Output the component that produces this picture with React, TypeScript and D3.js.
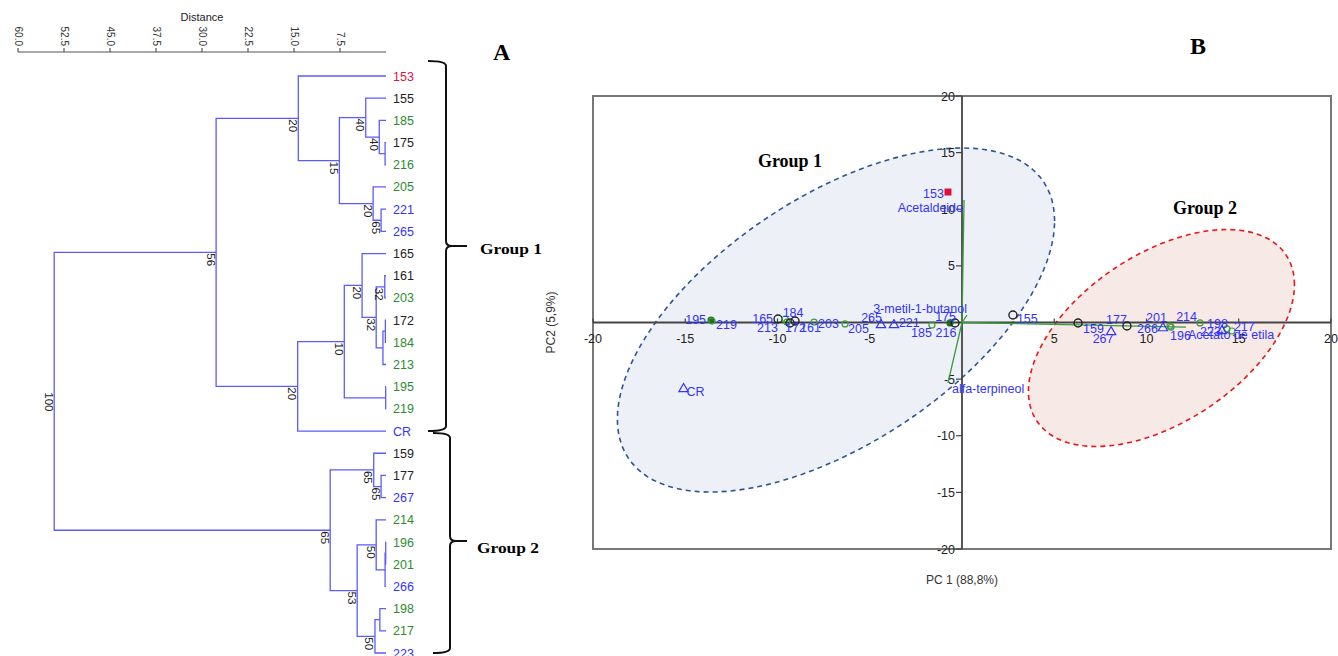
import React from "react";
import * as d3 from "d3";

// ---------------- Dendrogram (panel A) data ----------------
const leaves = [
  "153", "155", "185", "175", "216", "205", "221", "265",
  "165", "161", "203", "172", "184", "213", "195", "219", "CR",
  "159", "177", "267", "214", "196", "201", "266", "198", "217", "223",
];
const leafGroups = [
  "red", "black", "green", "black", "green", "green", "blue", "blue",
  "black", "black", "green", "black", "green", "green", "green", "green", "blue",
  "black", "black", "blue", "green", "green", "green", "blue", "green", "green", "blue",
];
// [node id, child A, child B, distance, bootstrap]
const merges: [string, string, string, number, number | null][] = [
  ["n1", "175", "216", 0.15, null],
  ["n2", "185", "n1", 1.1, 40],
  ["n3", "155", "n2", 3.3, 40],
  ["n4", "221", "265", 0.8, 65],
  ["n5", "205", "n4", 2.1, 20],
  ["n6", "n3", "n5", 7.6, 15],
  ["n7", "153", "n6", 14.3, 20],
  ["m1", "161", "203", 0.2, 32],
  ["m2a", "172", "184", 0.1, null],
  ["m2", "m2a", "213", 0.5, null],
  ["m3", "m1", "m2", 1.6, 32],
  ["m4", "165", "m3", 3.9, 20],
  ["m5", "195", "219", 0.05, null],
  ["m6", "m4", "m5", 6.8, 10],
  ["m7", "m6", "CR", 14.4, 20],
  ["g1", "n7", "m7", 27.7, 56],
  ["p1", "177", "267", 0.8, 65],
  ["p2", "159", "p1", 2.0, 65],
  ["q1", "196", "201", 0.05, null],
  ["q2", "q1", "266", 0.15, null],
  ["q3", "214", "q2", 1.6, 50],
  ["r1", "198", "217", 1.0, null],
  ["r2", "r1", "223", 1.8, 50],
  ["s1", "q3", "r2", 4.7, 53],
  ["s2", "p2", "s1", 9.1, 65],
  ["root", "g1", "s2", 54.1, 100],
];
const distanceTicks = [60, 52.5, 45, 37.5, 30, 22.5, 15, 7.5];

// ---------------- PCA (panel B) data ----------------
const samples = [
  "153", "195", "219", "165", "184", "213", "172", "161", "203", "205",
  "265", "221", "185", "216", "175", "155", "159", "177", "267", "266",
  "201", "196", "214", "198", "217", "223", "CR",
];
const pc1 = [
  -0.76, -13.6, -13.55, -9.97, -9.59, -9.49, -9.32, -9.05, -8.02, -6.34,
  -4.39, -3.69, -1.63, -0.65, -0.38, 2.76, 6.29, 8.94, 8.08, 10.89,
  11.27, 11.33, 12.9, 14.36, 14.63, 14.09, -15.09,
];
const pc2 = [
  11.52, 0.22, 0.13, 0.31, 0.31, 0.04, -0.04, 0.13, 0.04, -0.13,
  -0.22, -0.22, -0.22, -0.04, -0.04, 0.66, -0.04, -0.31, -0.84, -0.49,
  -0.31, -0.4, -0.04, -0.57, -0.75, -0.75, -5.87,
];
const variables = ["Acetaldeido", "3-metil-1-butanol", "alfa-terpineol", "Acetato de etila"];
const loadX = [0.11, 0.27, -0.76, 12.14];
const loadY = [10.82, 0.66, -5.34, -0.4];
const pcaTicks = [-20, -15, -10, -5, 5, 10, 15, 20];

// confidence ellipses: centre, sd x, sd y, correlation
const ellipseNames = ["Group 1", "Group 2"];
const ellCx = [-6.83, 10.81];
const ellCy = [0.22, -1.37];
const ellSx = [11.85, 7.21];
const ellSy = [15.19, 9.58];
const ellR = [0.576, 0.492];

// ---------------- styling ----------------
const groupColor: Record<string, string> = {
  red: "#e3143c",
  black: "#222222",
  green: "#2e8b2e",
  blue: "#3333ff",
};
const markerColor: Record<string, string> = {
  red: "#e0103a",
  black: "#222222",
  green: "#3d9d3d",
  blue: "#3535ff",
};
const filledMarkers = new Set(["195", "216"]);
// label placement relative to point: [dx, dy, anchor]
const labelPos: Record<string, [number, number, string]> = {
  "153": [-4, 6, "end"],
  "195": [-5, 4, "end"],
  "219": [4, 8, "start"],
  "165": [-5, 4, "end"],
  "184": [8, -2, "middle"],
  "213": [-9, 10, "end"],
  "172": [-5, 9, "start"],
  "161": [5, 11, "start"],
  "203": [4, 6, "start"],
  "205": [3, 9, "start"],
  "265": [1, -3, "end"],
  "221": [5, 2, "start"],
  "185": [0, 12, "end"],
  "216": [-4, 14, "middle"],
  "175": [1, -2, "end"],
  "155": [4, 8, "start"],
  "159": [5, 10, "start"],
  "177": [0, -2.5, "end"],
  "267": [-8, 10.5, "middle"],
  "266": [-5, 4.5, "end"],
  "201": [-3, -4.5, "end"],
  "196": [-1, 12.5, "start"],
  "214": [-3, -1.5, "end"],
  "198": [1, -0.5, "end"],
  "217": [2, 0.5, "start"],
  "223": [-1, 5.5, "end"],
  CR: [3, 7.5, "start"],
};
const varLabelPos: [number, number, string][] = [
  [-1, 12, "end"],
  [0, -2, "end"],
  [4, 10, "start"],
  [2, 12, "start"],
];

const SANS = "'Liberation Sans', Arial, Helvetica, sans-serif";
const SERIF = "'Liberation Serif', 'Times New Roman', serif";

function bracePath(x: number, y1: number, y2: number, ym: number, hook: number, tip: number) {
  return [
    `M${x - hook},${y1}`,
    `Q${x},${y1} ${x},${y1 + 5}`,
    `L${x},${ym - 5}`,
    `Q${x},${ym} ${x + 6},${ym}`,
    `L${x + tip},${ym}`,
    `M${x + 6},${ym}`,
    `Q${x},${ym} ${x},${ym + 5}`,
    `L${x},${y2 - 5}`,
    `Q${x},${y2} ${x - hook},${y2}`,
  ].join(" ");
}

function Dendrogram() {
  const xD = d3.scaleLinear().domain([0, 60]).range([386, 18]);
  const yLeaf = d3.scalePoint<string>().domain(leaves).range([76, 653]);
  const pos: Record<string, { x: number; y: number }> = {};
  leaves.forEach((l) => (pos[l] = { x: xD(0), y: yLeaf(l) as number }));
  const lines: JSX.Element[] = [];
  const boots: JSX.Element[] = [];
  merges.forEach(([id, a, b, h, bs], i) => {
    const A = pos[a];
    const B = pos[b];
    const x = xD(h);
    const y = (A.y + B.y) / 2;
    pos[id] = { x, y };
    lines.push(
      <path
        key={"l" + i}
        d={`M${A.x},${A.y} H${x} V${B.y} H${B.x}`}
        fill="none"
        stroke="#5b5bff"
        strokeWidth={1.3}
      />
    );
    if (bs !== null) {
      boots.push(
        <text
          key={"b" + i}
          transform={`translate(${x - 9.5},${y + 1}) rotate(90)`}
          fontSize={11.5}
          fontFamily={SANS}
          fill="#222"
        >
          {bs}
        </text>
      );
    }
  });
  const axisY = 52;
  return (
    <g>
      <text x={202} y={21} textAnchor="middle" fontSize={11} fontFamily={SANS} fill="#222">
        Distance
      </text>
      <line x1={xD(60)} x2={xD(0)} y1={axisY} y2={axisY} stroke="#555" strokeWidth={1.2} />
      {distanceTicks.map((t) => (
        <g key={t}>
          <line x1={xD(t)} x2={xD(t)} y1={axisY} y2={axisY - 4} stroke="#555" strokeWidth={1.2} />
          <text
            transform={`translate(${xD(t) - 3.5},${axisY - 6}) rotate(90)`}
            textAnchor="end"
            fontSize={10}
            fontFamily={SANS}
            fill="#333"
          >
            {t.toFixed(1)}
          </text>
        </g>
      ))}
      {lines}
      {boots}
      {leaves.map((l, i) => (
        <text
          key={l}
          x={xD(0) + 7}
          y={(yLeaf(l) as number) + 4.5}
          fontSize={12.5}
          fontFamily={SANS}
          fill={groupColor[leafGroups[i]]}
        >
          {l}
        </text>
      ))}
      <path d={bracePath(446, 61, 431, 246, 18, 21)} fill="none" stroke="#111" strokeWidth={2} />
      <path d={bracePath(450, 433, 653, 541, 17, 17)} fill="none" stroke="#111" strokeWidth={2} />
      <text x={480} y={254} fontSize={15} fontWeight="bold" fontFamily={SERIF} textLength={62} lengthAdjust="spacingAndGlyphs">
        Group 1
      </text>
      <text x={477} y={553} fontSize={15} fontWeight="bold" fontFamily={SERIF} textLength={62} lengthAdjust="spacingAndGlyphs">
        Group 2
      </text>
      <text x={493} y={60} fontSize={24} fontWeight="bold" fontFamily={SERIF}>
        A
      </text>
    </g>
  );
}

function PCA() {
  const x = d3.scaleLinear().domain([-20, 20]).range([593, 1331]);
  const y = d3.scaleLinear().domain([-20, 20]).range([549, 96]);
  const x0 = x(0);
  const y0 = y(0);
  const ellipseFill = ["#edf1f7", "#f7eae6"];
  const ellipseStroke = ["#2f5597", "#e8161b"];
  const ellPaths = ellipseNames.map((_, g) => {
    const pts = d3.range(0, 361, 3).map((deg) => {
      const t = (deg * Math.PI) / 180;
      const ex = ellCx[g] + ellSx[g] * Math.cos(t);
      const ey = ellCy[g] + ellSy[g] * (ellR[g] * Math.cos(t) + Math.sqrt(1 - ellR[g] ** 2) * Math.sin(t));
      return [x(ex), y(ey)] as [number, number];
    });
    return d3.line().curve(d3.curveLinearClosed)(pts) as string;
  });
  const tri = d3.symbol().type(d3.symbolTriangle).size(38)() as string;
  return (
    <g>
      {ellPaths.map((d, g) => (
        <path key={g} d={d} fill={ellipseFill[g]} stroke="none" />
      ))}
      <rect x={x(-20)} y={y(20)} width={x(20) - x(-20)} height={y(-20) - y(20)} fill="none" stroke="#777" strokeWidth={2} />
      {ellPaths.map((d, g) => (
        <path key={g} d={d} fill="none" stroke={ellipseStroke[g]} strokeWidth={1.6} strokeDasharray="5,4" />
      ))}
      <line x1={x(-20)} x2={x(20)} y1={y0} y2={y0} stroke="#444" strokeWidth={1.8} />
      <line x1={x0} x2={x0} y1={y(20)} y2={y(-20)} stroke="#444" strokeWidth={1.8} />
      {pcaTicks.map((t) => (
        <g key={t}>
          <line x1={x(t)} x2={x(t)} y1={y0} y2={y0 - 4} stroke="#444" strokeWidth={1.2} />
          <text x={x(t)} y={y0 + 20} textAnchor="middle" fontSize={12.5} fontFamily={SANS} fill="#222">
            {t}
          </text>
          <line x1={x0 - 6} x2={x0} y1={y(t)} y2={y(t)} stroke="#444" strokeWidth={1.2} />
          <text x={x0 - 7} y={y(t) + 4.5} textAnchor="end" fontSize={12.5} fontFamily={SANS} fill="#222">
            {t}
          </text>
        </g>
      ))}
      {variables.map((v, i) => (
        <line key={v} x1={x0} y1={y0} x2={x(loadX[i])} y2={y(loadY[i])} stroke="#3a9a3a" strokeWidth={1.3} />
      ))}
      {samples.map((s, i) => {
        const g = leafGroups[leaves.indexOf(s)];
        const px = x(pc1[i]);
        const py = y(pc2[i]);
        const c = markerColor[g];
        if (g === "red")
          return <rect key={s} x={px - 3.5} y={py - 3.5} width={7} height={7} fill={c} />;
        if (g === "blue")
          return <path key={s} d={tri} transform={`translate(${px},${py})`} fill="none" stroke={c} strokeWidth={1.2} />;
        if (g === "black")
          return <circle key={s} cx={px} cy={py} r={4} fill="none" stroke={c} strokeWidth={1.4} />;
        return (
          <circle
            key={s}
            cx={px}
            cy={py}
            r={3}
            fill={filledMarkers.has(s) ? "#1f6f1f" : "none"}
            stroke={filledMarkers.has(s) ? "#1f6f1f" : c}
            strokeWidth={1.2}
          />
        );
      })}
      {samples.map((s, i) => {
        const [dx, dy, anchor] = labelPos[s];
        return (
          <text
            key={s}
            x={x(pc1[i]) + dx}
            y={y(pc2[i]) + dy}
            textAnchor={anchor as any}
            fontSize={12.5}
            fontFamily={SANS}
            fill="#3333ff"
          >
            {s}
          </text>
        );
      })}
      {variables.map((v, i) => {
        const [dx, dy, anchor] = varLabelPos[i];
        return (
          <text
            key={v}
            x={x(loadX[i]) + dx}
            y={y(loadY[i]) + dy}
            textAnchor={anchor as any}
            fontSize={12.5}
            fontFamily={SANS}
            fill="#3333ff"
          >
            {v}
          </text>
        );
      })}
      <text x={790} y={167} textAnchor="middle" fontSize={18} fontWeight="bold" fontFamily={SERIF}>
        Group 1
      </text>
      <text x={1205} y={214} textAnchor="middle" fontSize={18} fontWeight="bold" fontFamily={SERIF}>
        Group 2
      </text>
      <text x={x0} y={584} textAnchor="middle" fontSize={12} fontFamily={SANS} fill="#333">
        PC 1 (88,8%)
      </text>
      <text transform={`translate(555,${y0}) rotate(-90)`} textAnchor="middle" fontSize={12} fontFamily={SANS} fill="#333">
        PC2 (5,9%)
      </text>
      <text x={1190} y={54} fontSize={24} fontWeight="bold" fontFamily={SERIF}>
        B
      </text>
    </g>
  );
}

export default function App() {
  return (
    <svg
      width={1338}
      height={656}
      viewBox="0 0 1338 656"
      style={{ position: "absolute", left: 0, top: 0, background: "#fff" }}
    >
      <rect width={1338} height={656} fill="#fff" />
      <Dendrogram />
      <PCA />
    </svg>
  );
}
